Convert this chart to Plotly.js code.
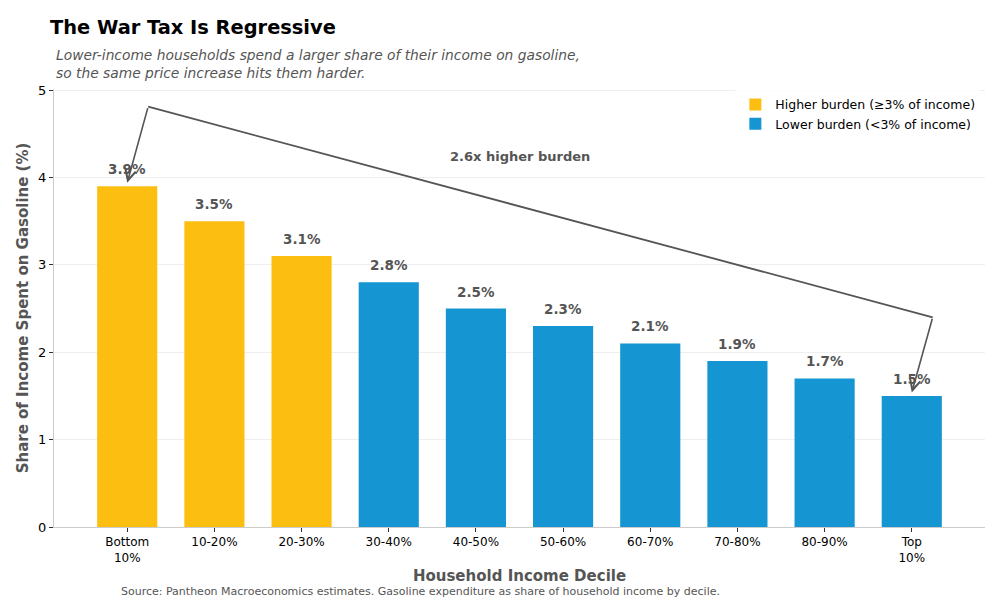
<!DOCTYPE html>
<html><head><meta charset="utf-8">
<script src="https://cdn.plot.ly/plotly-3.0.1.min.js"></script>
<style>body{margin:0;background:#fff}#c{width:1000px;height:600px}</style>
</head><body><div id="c"></div>
<script>
const categories = ["Bottom<br>10%","10-20%","20-30%","30-40%","40-50%","50-60%","60-70%","70-80%","80-90%","Top<br>10%"];
const shares = [3.9,3.5,3.1,2.8,2.5,2.3,2.1,1.9,1.7,1.5];
const threshold = 3;
const labelHigh = "Higher burden (≥3% of income)";
const labelLow = "Lower burden (<3% of income)";
const ratioText = "2.6x higher burden";

const idx = categories.map((_, i) => i);
const hiIdx = idx.filter(i => shares[i] >= threshold);
const loIdx = idx.filter(i => shares[i] < threshold);
const FONT = "DejaVu Sans, sans-serif";
const GRAY = "#555555";

function barTrace(ids, name, color) {
  return {
    type: "bar", x: ids, y: ids.map(i => shares[i]), name: name,
    marker: {color: color}, width: 0.69, hoverinfo: "skip"
  };
}
const data = [barTrace(hiIdx, labelHigh, "#FDBE12"), barTrace(loIdx, labelLow, "#1695D3")];

const n = shares.length;
const apex1 = {x: 0.24, y: 4.81};
const apex2 = {x: n - 1 + 0.24, y: 2.40};

const barLabels = idx.map(i => ({
  xref: "x", yref: "y", x: i, y: shares[i], yshift: 17, showarrow: false,
  text: "<b>" + shares[i].toFixed(1) + "%</b>",
  font: {family: FONT, size: 13.5, color: GRAY}
}));

const layout = {
  width: 1000, height: 600,
  margin: {l: 54, r: 15, t: 89, b: 73},
  paper_bgcolor: "#fff", plot_bgcolor: "#fff",
  font: {family: FONT, size: 12, color: "#000"},
  title: {text: "<b>The War Tax Is Regressive</b>", x: 0.05, xanchor: "left", y: 0.955, yanchor: "middle",
          font: {family: FONT, size: 19.4, color: "#000"}},
  barmode: "overlay",
  xaxis: {
    range: [-0.84, n - 1 + 0.84], tickvals: idx, ticktext: categories,
    ticks: "outside", ticklen: 4, tickcolor: "#333", showgrid: false, zeroline: false,
    showline: true, linecolor: "#ccc", linewidth: 1,
    tickfont: {family: FONT, size: 12, color: "#000"},
    title: {text: "<b>Household Income Decile</b>", font: {family: FONT, size: 15, color: GRAY}, standoff: 6}
  },
  yaxis: {
    range: [0, 5.012], tickvals: [0,1,2,3,4,5], ticks: "outside", ticklen: 4, tickcolor: "#333",
    showgrid: true, gridcolor: "#efefef", zeroline: false,
    showline: true, linecolor: "#ccc", linewidth: 1,
    tickfont: {family: FONT, size: 13, color: "#000"},
    title: {text: "<b>Share of Income Spent on Gasoline (%)</b>", font: {family: FONT, size: 15, color: GRAY}, standoff: 5}
  },
  legend: {x: 0.995, xanchor: "right", y: 0.998, yanchor: "top", bgcolor: "rgba(255,255,255,0.8)",
           font: {family: FONT, size: 12.5, color: "#000"}, traceorder: "normal", tracegroupgap: 0},
  shapes: [
    {type: "line", xref: "x", yref: "y", x0: apex1.x, y0: apex1.y, x1: apex2.x, y1: apex2.y,
     line: {color: GRAY, width: 1.8}}
  ],
  annotations: barLabels.concat([
    {xref: "paper", yref: "paper", x: 0.0, y: 1.0, yshift: 44, xanchor: "left", yanchor: "top", align: "left", showarrow: false,
     text: "<i>Lower-income households spend a larger share of their income on gasoline,<br>so the same price increase hits them harder.</i>",
     font: {family: FONT, size: 13.8, color: GRAY}},
    {xref: "x", yref: "y", x: 0, y: shares[0] + 0.04, ax: apex1.x, ay: apex1.y, axref: "x", ayref: "y",
     showarrow: true, arrowhead: 5, arrowsize: 1.3, arrowwidth: 1.6, arrowcolor: GRAY, text: ""},
    {xref: "x", yref: "y", x: n - 1, y: shares[n - 1] + 0.04, ax: apex2.x, ay: apex2.y, axref: "x", ayref: "y",
     showarrow: true, arrowhead: 5, arrowsize: 1.3, arrowwidth: 1.6, arrowcolor: GRAY, text: ""},
    {xref: "x", yref: "y", x: 4.51, y: 4.24, showarrow: false, text: "<b>" + ratioText + "</b>",
     font: {family: FONT, size: 13, color: GRAY}},
    {xref: "paper", yref: "paper", x: 0.07, y: 0, yshift: -73, xanchor: "left", yanchor: "bottom", showarrow: false,
     text: "Source: Pantheon Macroeconomics estimates. Gasoline expenditure as share of household income by decile.",
     font: {family: FONT, size: 11, color: GRAY}}
  ])
};
Plotly.newPlot("c", data, layout, {displayModeBar: false, staticPlot: true});
</script></body></html>
